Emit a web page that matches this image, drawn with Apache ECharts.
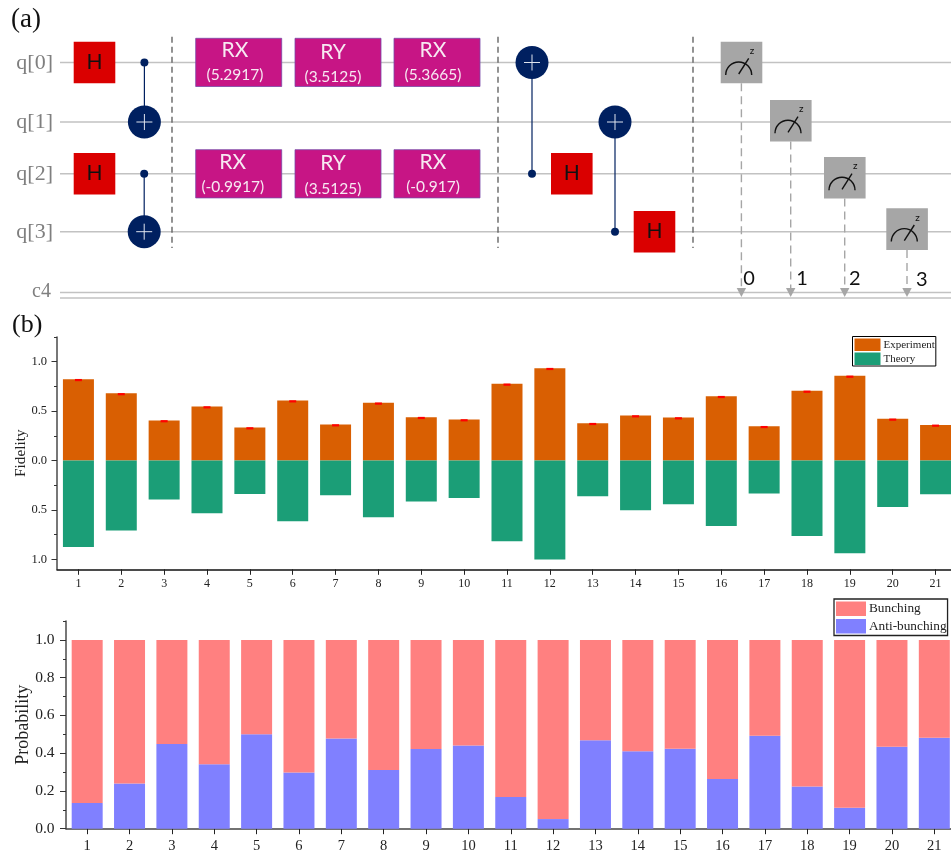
<!DOCTYPE html>
<html><head><meta charset="utf-8">
<style>html,body{margin:0;padding:0;background:#fff}#c{width:951px;height:859px}</style>
<script src="https://cdn.jsdelivr.net/npm/echarts@6/dist/echarts.min.js"></script>
</head><body><div id="c"></div>
<script>
// ---- chart values ----
const circuits = ['1','2','3','4','5','6','7','8','9','10','11','12','13','14','15','16','17','18','19','20','21'];
const experiment = [0.823,0.680,0.405,0.546,0.334,0.607,0.364,0.584,0.439,0.415,0.776,0.935,0.378,0.455,0.435,0.651,0.347,0.705,0.857,0.422,0.361];
const experimentErr = [0.005,0.005,0.008,0.007,0.007,0.006,0.007,0.007,0.006,0.007,0.006,0.005,0.006,0.007,0.007,0.006,0.006,0.005,0.005,0.006,0.006];
const theory = [0.874,0.708,0.395,0.533,0.337,0.614,0.351,0.574,0.415,0.378,0.816,1.000,0.361,0.503,0.442,0.661,0.334,0.762,0.938,0.469,0.341];
const antiBunching = [0.136,0.240,0.448,0.341,0.500,0.297,0.478,0.311,0.422,0.441,0.168,0.051,0.468,0.410,0.424,0.263,0.492,0.224,0.111,0.434,0.482];
const bunching = [0.864,0.760,0.552,0.659,0.500,0.703,0.522,0.689,0.578,0.559,0.832,0.949,0.532,0.590,0.576,0.737,0.508,0.776,0.889,0.566,0.518];
const fidelityTicks = [-1,-0.5,0,0.5,1];
const fidelityMinor = [-0.75,-0.25,0.25,0.75,1.25];
const probTicks = [0,0.2,0.4,0.6,0.8,1];
const probMinor = [0.1,0.3,0.5,0.7,0.9,1.1];
const wireLabels = ['q[0]','q[1]','q[2]','q[3]','c4'];
const rotNames = ['RX','RY','RX','RX','RY','RX'];
const rotAngles = ['(5.2917)','(3.5125)','(5.3665)','(-0.9917)','(3.5125)','(-0.917)'];
const clbits = ['0','1','2','3'];

// ---- circuit layout (schematic units of the hidden axes) ----
const W = [62.5,122,173.7,231.7], C = [292.5,298];
const hGates = [[73.7,W[0]],[73.7,W[2]],[551,W[2]],[633.7,W[3]]];
const cnots = [[144.4,W[0],W[1]],[144.2,W[2],W[3]],[532,W[2],W[0]],[615,W[3],W[1]]];
const barriers = [172,498,693];
const rotBoxes = [[195.7,38.3,235,50,74.7],[295,38.3,333,52,76.7],[394,38.3,433,50,74.7],
                  [195.7,149.7,232.7,162.3,186.7],[295,149.7,333,163.7,188.7],[394,149.7,433,162,187]];
const meters = [[720.7,41.7,749,279],[770,100,802,279],[824,157,854.7,279],[886.3,208.3,921.7,280]];
const GATE = 41.6, serif = '"Liberation Serif","Times New Roman",serif', sans = 'Lato,"Open Sans",sans-serif';

function line(api,x1,y1,x2,y2,style){const a=api.coord([x1,y1]),b=api.coord([x2,y2]);
  return {type:'line',shape:{x1:a[0],y1:a[1],x2:b[0],y2:b[1]},style:Object.assign({fill:null},style)};}
function rect(api,x,y,w,h,style){const a=api.coord([x,y]),b=api.coord([x+w,y+h]);
  return {type:'rect',shape:{x:a[0],y:a[1],width:b[0]-a[0],height:b[1]-a[1]},style};}
function circ(api,x,y,r,style){const a=api.coord([x,y]);return {type:'circle',shape:{cx:a[0],cy:a[1],r},style};}
function label(api,x,y,text,size,color,font,align){const a=api.coord([x,y]);
  return {type:'text',x:a[0],y:a[1],style:{text,fontSize:size,fill:color,fontFamily:font,align:align||'center',verticalAlign:'middle'}};}
function schematic(table,draw,z){return {type:'custom',xAxisIndex:0,yAxisIndex:0,coordinateSystem:'cartesian2d',clip:false,silent:true,z,
  data:table.map((d,i)=>[i,0]),renderItem:(p,api)=>({type:'group',children:draw(api,table[p.dataIndex],p.dataIndex)})};}

const wireGrey='#c2c2c2', navy='#002060', meterGrey='#a6a6a6';
const circuitSeries = [
  schematic([...W,...C],(api,y)=>[line(api,60,y,951,y,{stroke:wireGrey,lineWidth:1.4})],1),
  schematic(wireLabels,(api,t,i)=>[label(api,i<4?53:51,i<4?W[i]+0.5:291.7,t,i<4?22:20,'#7f7f7f',serif,'right')],2),
  schematic(barriers,(api,x)=>[line(api,x,36.7,x,248,{stroke:'#595959',lineWidth:1.3,lineDash:[6,4]})],3),
  schematic(hGates,(api,g)=>[rect(api,g[0],g[1]-20.8,GATE,GATE,{fill:'#da0000'}),
     label(api,g[0]+GATE/2,g[1],'H',21,'#111',sans)],4),
  schematic(cnots,(api,c)=>[line(api,c[0],c[1],c[0],c[2],{stroke:navy,lineWidth:1.2}),
     circ(api,c[0],c[1],4,{fill:navy}),circ(api,c[0],c[2],16.5,{fill:navy}),
     line(api,c[0]-8,c[2],c[0]+8,c[2],{stroke:'#dfe4ee',lineWidth:1}),line(api,c[0],c[2]-8,c[0],c[2]+8,{stroke:'#dfe4ee',lineWidth:1})],5),
  schematic(rotBoxes,(api,b,i)=>[rect(api,b[0],b[1],86,48.2,{fill:'#c71585',stroke:'#7a4aa8',lineWidth:0.8}),
     label(api,b[2],b[3],rotNames[i],21,'#f7e9f2',sans),label(api,b[2],b[4],rotAngles[i],15.5,'#f7e9f2',sans)],6),
  schematic(meters,(api,m,i)=>{const cx=m[0]+20.7,by=m[1]+GATE,tip=api.coord([cx,297]);
     const c=api.coord([m[0]+18,m[1]+33.3]);
     return [line(api,cx,by,cx,288,{stroke:meterGrey,lineWidth:1.4,lineDash:[8,5]}),
       {type:'polygon',shape:{points:[[tip[0]-4.7,tip[1]-9],[tip[0]+4.7,tip[1]-9],tip]},style:{fill:meterGrey}},
       rect(api,m[0],m[1],GATE,GATE,{fill:meterGrey}),
       {type:'arc',shape:{cx:c[0],cy:c[1],r:13,startAngle:Math.PI,endAngle:2*Math.PI},style:{fill:null,stroke:'#111',lineWidth:1.4}},
       line(api,m[0]+18,m[1]+32.3,m[0]+28,m[1]+16.7,{stroke:'#111',lineWidth:1.4}),
       label(api,m[0]+31.3,m[1]+9,'z',10,'#111',sans),
       label(api,m[2],m[3],clbits[i],20,'#111',sans)];},7)
];

const tickFont = {fontFamily:serif,color:'#222'};
function yAxes(grid,min,max,ticks,minor,size,margin,tick,name,nameSize,nameGap,lineW){
  return [{type:'value',gridIndex:grid,min,max,position:'left',name,nameLocation:'middle',nameGap,nameMoveOverlap:false,
      nameTextStyle:{fontFamily:serif,fontSize:nameSize,color:'#222'},
      splitLine:{show:false},
      axisLine:{show:true,onZero:false,lineStyle:{color:'#555',width:lineW}},
      axisTick:{show:true,length:tick,customValues:ticks,lineStyle:{color:'#333',width:1}},
      axisLabel:Object.assign({fontSize:size,margin,customValues:ticks,formatter:v=>Math.abs(v).toFixed(1)},tickFont)},
    {type:'value',gridIndex:grid,min,max,position:'left',
      splitLine:{show:false},axisLine:{show:false},axisLabel:{show:false},
      axisTick:{show:true,length:3,customValues:minor,lineStyle:{color:'#333',width:1}}}];
}
function xAxis(grid,size,margin,color){return {type:'category',gridIndex:grid,data:circuits,position:'bottom',
   axisLine:{show:true,onZero:false,lineStyle:{color,width:1.5}},
   axisTick:{show:true,alignWithLabel:true,length:5.5,lineStyle:{color:'#222',width:1}},
   axisLabel:Object.assign({fontSize:size,margin,interval:0},tickFont),splitLine:{show:false}};}

const option = {
  animation:false,backgroundColor:'#fff',
  title:[{text:'(a)',left:11,top:6,padding:0,textStyle:{fontFamily:serif,fontSize:27,fontWeight:'normal',color:'#111'}},
         {text:'(b)',left:12,top:312,padding:0,textStyle:{fontFamily:serif,fontSize:26,fontWeight:'normal',color:'#111'}}],
  grid:[{left:0,top:0,width:951,height:310,outerBoundsMode:'none'},
        {left:57,top:337,width:900,height:232.3,outerBoundsMode:'none'},
        {left:66,top:621,width:889.5,height:207.7,outerBoundsMode:'none'}],
  xAxis:[{type:'value',gridIndex:0,min:0,max:951,show:false},xAxis(1,12,9,'#111'),xAxis(2,14.5,10,'#444')],
  yAxis:[{type:'value',gridIndex:0,min:0,max:310,inverse:true,show:false},
     ...yAxes(1,-1.1,1.25,fidelityTicks,fidelityMinor,12.5,10,5.5,'Fidelity',15.3,28.5,1.6),
     ...yAxes(2,0,1.1,probTicks,probMinor,15.5,11.5,6,'Probability',18,34,1.6)],
  legend:[
    {data:['Experiment','Theory'],icon:'rect',orient:'vertical',left:852.5,top:336.5,padding:[2,1,1,2],itemGap:1.5,itemWidth:26,itemHeight:12.5,
     itemStyle:{borderWidth:0},borderColor:'#000',borderWidth:1,textStyle:{fontFamily:serif,fontSize:11,color:'#222',padding:[0,0,0,-2]},selectedMode:false},
    {data:['Bunching','Anti-bunching'],icon:'rect',orient:'vertical',left:834,top:599,padding:[2.5,1,2,2],itemGap:3,itemWidth:30,itemHeight:14.5,
     itemStyle:{borderWidth:0},borderColor:'#222',borderWidth:1.3,textStyle:{fontFamily:serif,fontSize:13.3,color:'#222',padding:[0,0,0,-2]},selectedMode:false}
  ],
  series:[
    ...circuitSeries,
    {name:'Experiment',type:'bar',xAxisIndex:1,yAxisIndex:1,data:experiment,barWidth:31,barGap:'-100%',itemStyle:{color:'#d95f02'}},
    {name:'Theory',type:'bar',xAxisIndex:1,yAxisIndex:1,data:theory.map(v=>-v),barWidth:31,barGap:'-100%',itemStyle:{color:'#1b9e77'}},
    {type:'custom',name:'Error',xAxisIndex:1,yAxisIndex:1,silent:true,z:5,
     data:experiment.map((v,i)=>[i,v,experimentErr[i]]),
     renderItem:(p,api)=>{const a=api.coord([api.value(0),api.value(1)+api.value(2)/2]),b=api.coord([api.value(0),api.value(1)-api.value(2)/2]);
       return {type:'rect',shape:{x:a[0]-3.5,y:a[1],width:7,height:Math.max(b[1]-a[1],2.2)},style:{fill:'#ff0000'}};}},
    {name:'Anti-bunching',type:'bar',xAxisIndex:2,yAxisIndex:3,stack:'p',data:antiBunching,barWidth:31,itemStyle:{color:'#8080ff'}},
    {name:'Bunching',type:'bar',xAxisIndex:2,yAxisIndex:3,stack:'p',data:bunching,barWidth:31,itemStyle:{color:'#ff8080'}}
  ]
};
const chart = echarts.init(document.getElementById('c'),null,{renderer:'canvas'});
chart.setOption(option);
</script></body></html>
